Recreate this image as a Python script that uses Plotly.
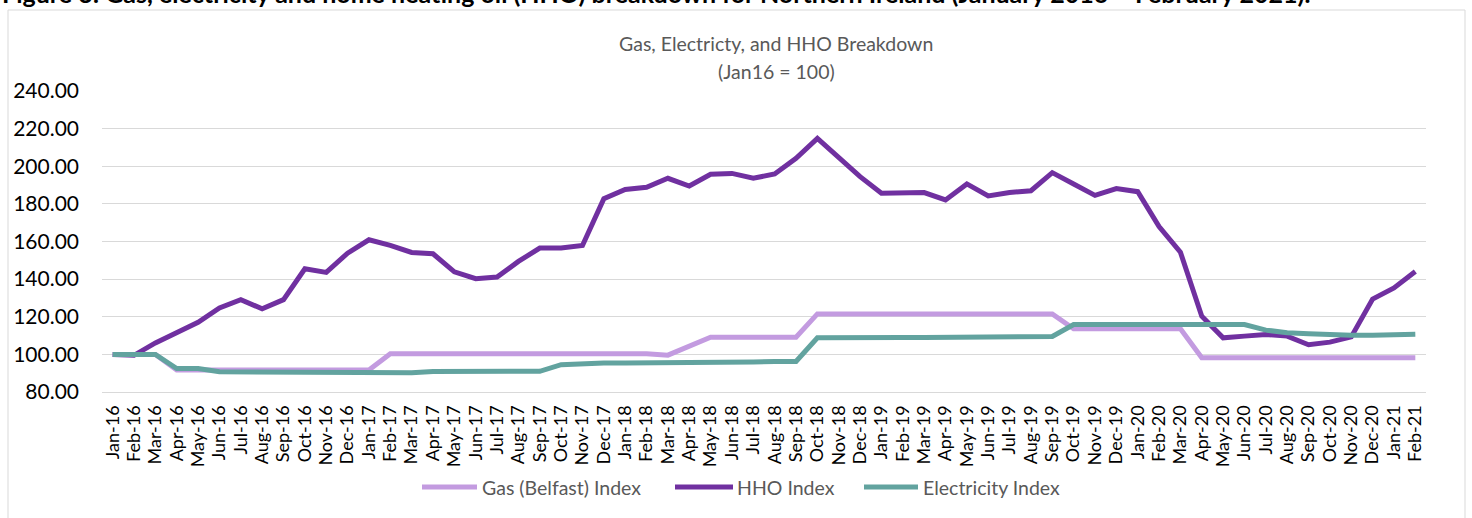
import plotly.graph_objects as go

months = [
    "Jan-16", "Feb-16", "Mar-16", "Apr-16", "May-16", "Jun-16", "Jul-16", "Aug-16", "Sep-16", "Oct-16", "Nov-16", "Dec-16",
    "Jan-17", "Feb-17", "Mar-17", "Apr-17", "May-17", "Jun-17", "Jul-17", "Aug-17", "Sep-17", "Oct-17", "Nov-17", "Dec-17",
    "Jan-18", "Feb-18", "Mar-18", "Apr-18", "May-18", "Jun-18", "Jul-18", "Aug-18", "Sep-18", "Oct-18", "Nov-18", "Dec-18",
    "Jan-19", "Feb-19", "Mar-19", "Apr-19", "May-19", "Jun-19", "Jul-19", "Aug-19", "Sep-19", "Oct-19", "Nov-19", "Dec-19",
    "Jan-20", "Feb-20", "Mar-20", "Apr-20", "May-20", "Jun-20", "Jul-20", "Aug-20", "Sep-20", "Oct-20", "Nov-20", "Dec-20",
    "Jan-21", "Feb-21",
]

gas_index = [
    100.0, 100.0, 100.0, 91.7, 91.7, 91.7, 91.7, 91.7, 91.7, 91.7, 91.7, 91.7,
    91.7, 100.3, 100.3, 100.3, 100.3, 100.3, 100.3, 100.3, 100.3, 100.3, 100.3, 100.3,
    100.3, 100.3, 99.6, 104.4, 109.1, 109.1, 109.1, 109.1, 109.1, 121.5, 121.5, 121.5,
    121.2, 121.5, 121.5, 121.5, 121.5, 121.5, 121.5, 121.5, 121.5, 113.6, 113.6, 113.6,
    113.6, 113.6, 113.6, 98.2, 98.2, 98.2, 98.2, 98.2, 98.2, 98.2, 98.2, 98.2,
    98.2, 98.2,
]

hho_index = [
    100.0, 99.5, 106.1, 111.4, 117.1, 124.7, 129.1, 124.2, 129.1, 145.5, 143.6, 153.8,
    160.9, 157.9, 154.2, 153.5, 143.9, 140.2, 141.1, 149.4, 156.5, 156.5, 157.9, 182.8,
    187.7, 188.8, 193.6, 189.5, 195.7, 196.2, 193.6, 195.9, 204.2, 214.8, 204.2, 194.5,
    185.6, 186.1, 186.0, 182.1, 190.6, 184.2, 186.0, 187.0, 196.6, 190.6, 184.5, 188.1,
    186.5, 167.9, 154.3, 120.3, 108.8, 109.7, 110.6, 109.7, 105.1, 106.5, 109.3, 129.4,
    135.3, 144.1,
]

electricity_index = [
    100.0, 100.0, 100.0, 92.5, 92.5, 90.8, 90.8, 90.8, 90.8, 90.8, 90.8, 90.8,
    90.8, 90.4, 90.2, 90.9, 91.0, 91.0, 91.1, 91.1, 91.0, 94.5, 95.2, 95.4,
    95.4, 95.4, 95.4, 95.4, 95.4, 95.4, 95.9, 96.2, 96.2, 108.8, 109.0, 109.0,
    109.0, 109.0, 109.0, 109.0, 109.0, 109.0, 109.0, 109.0, 109.5, 115.9, 115.9, 115.9,
    116.0, 116.2, 116.2, 116.2, 116.0, 115.9, 112.9, 111.5, 111.0, 110.4, 110.2, 110.2,
    110.2, 110.7,
]

y_ticks = [80, 100, 120, 140, 160, 180, 200, 220, 240]

series_names = ["Gas (Belfast) Index", "HHO Index", "Electricity Index"]
series_colors = ["#C39BE0", "#7030A0", "#62A39F"]
series_values = [gas_index, hho_index, electricity_index]

FONT = "Lato"
GREY = "#595959"

L, R, T, B = 102, 46, 91, 126
W, H = 1472, 518
pw, ph = W - L - R, H - T - B


def px(xp):
    return (xp - L) / pw


def py(yp):
    return (H - B - yp) / ph


fig = go.Figure()
for name, color, vals in zip(series_names, series_colors, series_values):
    fig.add_trace(go.Scatter(x=months, y=vals, mode="lines", name=name,
                             line=dict(color=color, width=5), showlegend=False))

# legend drawn as line swatches + text (layout elements)
legend_pos = [(422, 477, 480), (675, 733, 735), (864, 918, 921)]
legend_y = 487
shapes = [dict(type="rect", xref="paper", yref="paper",
               x0=px(8), x1=px(1465), y0=py(540), y1=py(10),
               line=dict(color="#D9D9D9", width=1), fillcolor="rgba(0,0,0,0)", layer="below")]
annotations = []
for (s0, s1, tx), name, color in zip(legend_pos, series_names, series_colors):
    shapes.append(dict(type="line", xref="paper", yref="paper",
                       x0=px(s0), x1=px(s1), y0=py(legend_y), y1=py(legend_y),
                       line=dict(color=color, width=5)))
    annotations.append(dict(text=name, xref="paper", yref="paper", x=px(tx), y=py(legend_y),
                            xanchor="left", yanchor="middle", showarrow=False,
                            font=dict(family=FONT, size=19.5, color=GREY)))

annotations += [
    dict(text="Gas, Electricty, and HHO Breakdown", xref="paper", yref="paper",
         x=px(776), y=py(44), xanchor="center", yanchor="middle", showarrow=False,
         font=dict(family=FONT, size=19.5, color=GREY)),
    dict(text="(Jan16 = 100)", xref="paper", yref="paper",
         x=px(776), y=py(72), xanchor="center", yanchor="middle", showarrow=False,
         font=dict(family=FONT, size=19.5, color=GREY)),
    dict(text="<b>Figure 3: Gas, electricity and home heating oil (HHO) breakdown for Northern Ireland (January 2016 – February 2021).</b>",
         xref="paper", yref="paper", x=px(0), y=py(10), xanchor="left", yanchor="bottom",
         showarrow=False, font=dict(family=FONT, size=25, color="black")),
]

fig.update_layout(
    width=W, height=H,
    margin=dict(l=L, r=R, t=T, b=B, autoexpand=False),
    paper_bgcolor="white", plot_bgcolor="white",
    font=dict(family=FONT, color=GREY),
    showlegend=False,
    xaxis=dict(type="category", range=[-0.5, len(months) - 0.5], showgrid=False, tickangle=-90,
               tickmode="array", tickvals=months, ticktext=months,
               tickfont=dict(family=FONT, size=18, color="black"),
               showline=True, linecolor="#D9D9D9", linewidth=1.3,
               ticks="", ticklabelstandoff=5, fixedrange=True, automargin=False),
    yaxis=dict(range=[80, 240], tickvals=y_ticks, tickformat=".2f",
               showgrid=True, gridcolor="#D9D9D9", gridwidth=1.3,
               zeroline=False, showline=False,
               tickfont=dict(family=FONT, size=21, color="black"),
               ticks="", ticklabelstandoff=22, fixedrange=True, automargin=False),
    shapes=shapes,
    annotations=annotations,
)

fig.write_html("out.html", config={"displayModeBar": False},
               post_script="document.body.style.margin='0';document.body.style.overflow='hidden';")
